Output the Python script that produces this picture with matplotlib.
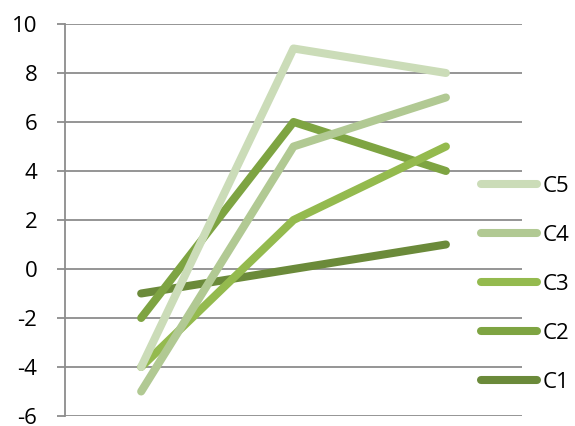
import matplotlib.pyplot as plt

plt.rcParams['font.family'] = ['Open Sans', 'DejaVu Sans']
plt.rcParams['axes.unicode_minus'] = False

categories = [0, 1, 2]
series_names = ['C1', 'C2', 'C3', 'C4', 'C5']
c1 = [-1, 0, 1]
c2 = [-2, 6, 4]
c3 = [-4, 2, 5]
c4 = [-5, 5, 7]
c5 = [-4, 9, 8]
colors = ['#6b8a3a', '#7ea442', '#94ba4e', '#b1c993', '#cbdcb8']

fig = plt.figure(figsize=(5.75, 4.26), dpi=100)
ax = fig.add_axes([0.113, 0.0235, 0.795, 0.9202])

lines = []
for name, vals, col in zip(series_names, [c1, c2, c3, c4, c5], colors):
    ln, = ax.plot(categories, vals, color=col, lw=5.8, solid_capstyle='round',
                  solid_joinstyle='round', label=name)
    lines.append(ln)

ax.set_xlim(-0.5, 2.5)
ax.set_ylim(-6, 10)
ax.set_yticks(range(-6, 11, 2))
ax.set_xticks([])
ax.yaxis.grid(True, color='#8c8c8c', lw=1.3)
ax.set_axisbelow(True)
for s in ['top', 'right', 'bottom']:
    ax.spines[s].set_visible(False)
ax.spines['left'].set_color('#8c8c8c')
ax.spines['left'].set_linewidth(1.3)
ax.tick_params(axis='y', length=5.8, width=1.3, color='#8c8c8c', labelsize=16, pad=14)

leg = ax.legend(lines[::-1], series_names[::-1], loc='upper left',
                bbox_to_anchor=(0.8365, 0.587), bbox_transform=fig.transFigure,
                frameon=False, fontsize=16, handlelength=2.5, handletextpad=0.27,
                labelspacing=1.26, borderpad=0, borderaxespad=0)
for l in leg.get_lines():
    l.set_solid_capstyle('round')

fig.savefig('out.png', dpi=100)
